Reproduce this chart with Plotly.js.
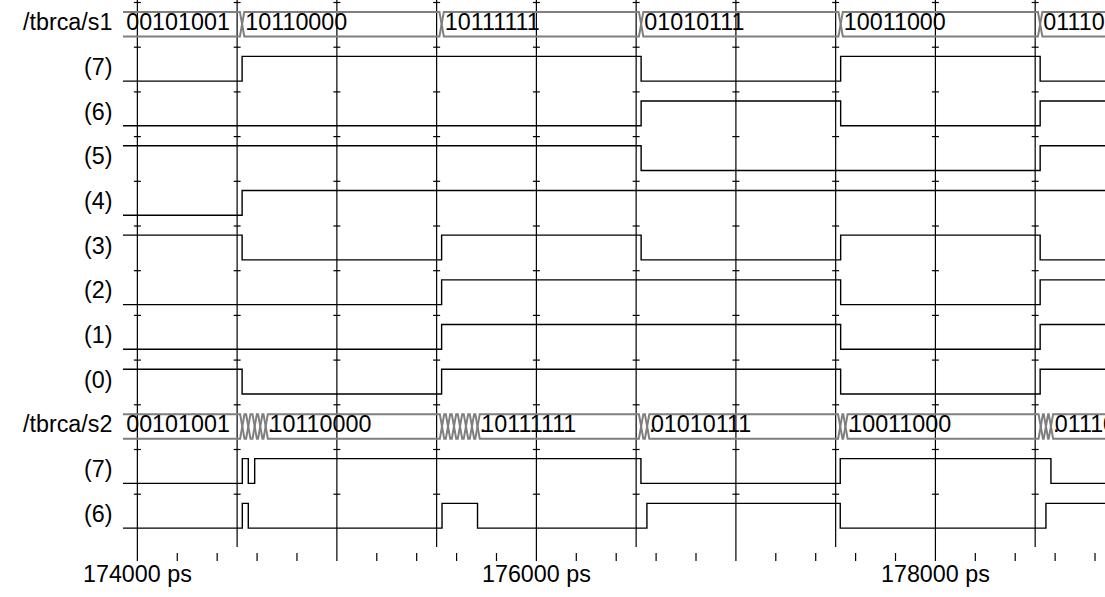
<!DOCTYPE html>
<html><head><meta charset="utf-8">
<script src="https://cdn.plot.ly/plotly-3.0.1.min.js"></script>
<style>html,body{margin:0;padding:0;background:#fff;}#chart{width:1105px;height:597px;}</style>
</head><body><div id="chart"></div>
<script>
// ---------------- data ----------------
const timeStart = 173928, timeEnd = 178850;          // visible time window (ps)
const rowLabels = ["/tbrca/s1","(7)","(6)","(5)","(4)","(3)","(2)","(1)","(0)","/tbrca/s2","(7)","(6)"];
// s1 bus: change times and values
const s1Times  = [174525, 175525, 176525, 177525, 178525];
const s1Values = ["00101001","10110000","10111111","01010111","10011000","01110111"];
const s1BitsShown = [7,6,5,4,3,2,1,0];
// s2 bus: bursts of changes (glitches) and settled values
const s2Bursts = [
  [174526,174556,174588,174616,174643],
  [175527,175557,175587,175617,175647,175677,175705],
  [176525,176555],
  [177523,177549],
  [178528,178554,178579]
];
const s2Values = ["00101001","10110000","10111111","01010111","10011000","01110111"];
// s2 bit 7 and bit 6: edge times and level after each edge
const s2b7Times  = [174526,174556,174588,176524,177523,178579];
const s2b7Levels = [0,1,0,1,0,1,0];
const s2b6Times  = [174526,174556,175527,175705,176554,177523,178554];
const s2b6Levels = [0,1,0,1,0,1,0,1];
// time axis
const gridTimes  = [174000,174500,175000,175500,176000,176500,177000,177500,178000,178500];
const majorTimes = [174000,175000,176000,177000,178000];
const minorTimes = [174200,174400,174600,174800,175200,175400,175600,175800,176200,176400,176600,176800,
                    177200,177400,177600,177800,178200,178400,178600,178800];
const axisLabelTimes = [174000,176000,178000];
const axisLabels = ["174000 ps","176000 ps","178000 ps"];

// ---------------- layout constants ----------------
const PX0 = 2.5, PITCH = 44.7;
const yTop = -PX0/PITCH, yBot = (597-PX0)/PITCH;
const HI = 0.205, LO = 0.758, BUS_T = 0.21, BUS_B = 0.76, TXT = 0.482, LBL = 0.44;
const H = 11, TXT_PAD = 16, TXT_PAD2 = 19;
const FONT = "Liberation Sans, Arial, sans-serif";
const FS = 23.3;
const u = px => (px-PX0)/PITCH;

function bitPath(r, times, levels){
  const x=[timeStart], y=[];
  let cur = +levels[0];
  y.push(r+(cur?HI:LO));
  times.forEach((t,i)=>{
    const nv = +levels[i+1];
    if(nv!==cur){ x.push(t,t); y.push(r+(cur?HI:LO), r+(nv?HI:LO)); cur=nv; }
  });
  x.push(timeEnd); y.push(r+(cur?HI:LO));
  x.push(null); y.push(null);
  return {x,y};
}
function busPath(r, changes){
  const x=[], y=[];
  [true,false].forEach(startTop=>{
    let top=startTop;
    x.push(timeStart); y.push(r+(top?BUS_T:BUS_B));
    changes.forEach(t=>{
      x.push(t-H); y.push(r+(top?BUS_T:BUS_B));
      top=!top;
      x.push(t+H); y.push(r+(top?BUS_T:BUS_B));
    });
    x.push(timeEnd); y.push(r+(top?BUS_T:BUS_B));
    x.push(null); y.push(null);
  });
  return {x,y};
}

const traces = [];
// grid lines
const gx=[], gy=[];
gridTimes.forEach(t=>{
  const isMajor = majorTimes.includes(t);
  gx.push(t,t,null); gy.push(yTop, u(isMajor?561:547), null);
});
minorTimes.forEach(t=>{ gx.push(t,t,null); gy.push(u(553), u(561), null); });
traces.push({x:gx,y:gy,mode:'lines',line:{color:'#000',width:1.2},hoverinfo:'skip'});
// row-boundary ticks on grid lines
const tx=[], ty=[];
gridTimes.forEach(t=>{ for(let r=0;r<rowLabels.length;r++){ tx.push(t); ty.push(r); } });
traces.push({x:tx,y:ty,mode:'markers',marker:{symbol:'line-ew',size:5,line:{color:'#000',width:1.2}},hoverinfo:'skip'});

// s1 bus
const b1 = busPath(0, s1Times);
traces.push({x:b1.x,y:b1.y,mode:'lines',line:{color:'#7f7f7f',width:2},hoverinfo:'skip'});
const s1Starts = [timeStart, ...s1Times];
traces.push({x:s1Starts.map(t=>t+TXT_PAD), y:s1Starts.map(()=>0+TXT), text:s1Values, mode:'text',
  textposition:'middle right', textfont:{family:FONT,size:FS,color:'#000'}, hoverinfo:'skip', cliponaxis:true});
// s1 bits
const bx=[], by=[];
s1BitsShown.forEach((bit,i)=>{
  const r = 1+i;
  const p = bitPath(r, s1Times, s1Values.map(v=>v[7-bit]));
  bx.push(...p.x); by.push(...p.y);
});
// s2 bits
[[10,s2b7Times,s2b7Levels],[11,s2b6Times,s2b6Levels]].forEach(([r,t,l])=>{
  const p = bitPath(r,t,l); bx.push(...p.x); by.push(...p.y);
});
traces.push({x:bx,y:by,mode:'lines',line:{color:'#000',width:1.4},hoverinfo:'skip'});

// s2 bus
const b2 = busPath(9, s2Bursts.flat());
traces.push({x:b2.x,y:b2.y,mode:'lines',line:{color:'#7f7f7f',width:2},hoverinfo:'skip'});
const s2Starts = [timeStart, ...s2Bursts.map(b=>b[b.length-1])];
traces.push({x:s2Starts.map((t,i)=>t+(i?TXT_PAD2:TXT_PAD)), y:s2Starts.map(()=>9+TXT), text:s2Values, mode:'text',
  textposition:'middle right', textfont:{family:FONT,size:FS,color:'#000'}, hoverinfo:'skip', cliponaxis:true});
const dots = s2Bursts.map(b=>b[b.length-1]+TXT_PAD-6);
traces.push({x:dots, y:dots.map(()=>9+TXT), text:dots.map(()=>'.'), mode:'text',
  textposition:'middle right', textfont:{family:FONT,size:FS,color:'#000'}, hoverinfo:'skip', cliponaxis:true});

const annotations = [];
rowLabels.forEach((lab,r)=>{
  annotations.push({xref:'paper',yref:'y',x:-9/982,y:r+LBL,xanchor:'right',yanchor:'middle',text:lab,showarrow:false,
    font:{family:FONT,size:FS,color:'#000'}});
});
axisLabelTimes.forEach((t,i)=>{
  annotations.push({xref:'x',yref:'y',x:t,y:u(574),xanchor:'center',yanchor:'middle',text:axisLabels[i],showarrow:false,
    font:{family:FONT,size:FS,color:'#000'}});
});

const layout = {
  width:1105, height:597, margin:{l:123,r:0,t:0,b:0,pad:0},
  paper_bgcolor:'#fff', plot_bgcolor:'#fff', showlegend:false,
  xaxis:{range:[timeStart,timeEnd],visible:false,fixedrange:true},
  yaxis:{range:[yBot,yTop],visible:false,fixedrange:true},
  annotations
};
Plotly.newPlot('chart', traces, layout, {staticPlot:true, displayModeBar:false});
</script></body></html>
